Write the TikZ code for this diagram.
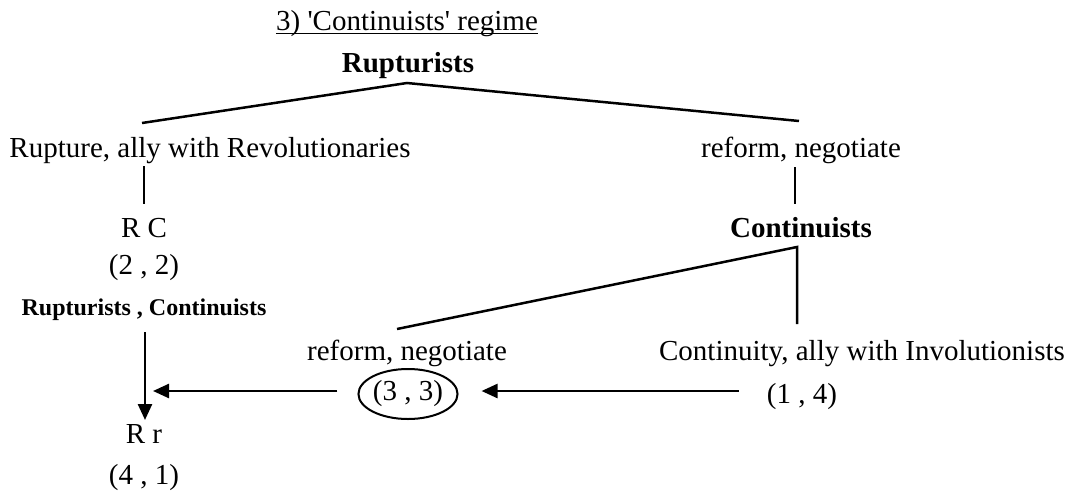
\documentclass[tikz,border=0pt]{standalone}
\usepackage{fontspec}
\setmainfont{Liberation Serif}[Ligatures=TeXOff]
\usetikzlibrary{arrows.meta,shapes.geometric,calc}
\begin{document}
\begin{tikzpicture}[x=1pt,y=-1pt,
  txt/.style={font=\fontsize{29}{34}\selectfont, inner sep=0pt, anchor=base},
  btxt/.style={txt, font=\fontsize{29}{34}\selectfont\bfseries},
  sbtxt/.style={txt, font=\fontsize{24}{28}\selectfont\bfseries},
  edge/.style={line width=2.5pt},
  arr/.style={line width=2.5pt, -{Triangle[length=16pt,width=14pt]}}]
\useasboundingbox (0,0) rectangle (1071,493);
% texts
\node[txt] (title) at (407,30) {3) 'Continuists' regime};
\node[btxt] (rup) at (408,72) {Rupturists};
\node[txt] (rupt) at (210,157) {Rupture, ally with Revolutionaries};
\node[txt] (refA) at (801,157) {reform, negotiate};
\node[txt] (rc) at (144,237) {R C};
\node[btxt] (cont) at (801,237) {Continuists};
\node[txt] (p22) at (144,274) {(2 , 2)};
\node[sbtxt] (lab) at (144,315) {Rupturists , Continuists};
\node[txt] (refB) at (407,360) {reform, negotiate};
\node[txt] (cty) at (862,360) {Continuity, ally with Involutionists};
\node[txt, anchor=center, ellipse, draw, line width=2pt, minimum width=97pt, minimum height=50pt] (p33) at (408,394) {(3 , 3)};
\node[txt] (p14) at (802,403) {(1 , 4)};
\node[txt] (rr) at (144,443) {R r};
\node[txt] (p41) at (144,484) {(4 , 1)};
% underline of title
\draw[line width=1.3pt] ($(title.base west)+(0,3.5)$) -- ($(title.base east)+(0,3.5)$);
% connector end points
\coordinate (rupA) at ($(rup.base)+(-1,11)$);
\coordinate (ruptA) at ($(rupt.base)+(-68,-34)$);
\coordinate (refAtop) at ($(refA.base)+(-2,-36)$);
\coordinate (ruptB) at ($(rupt.base)+(-66,9)$);
\coordinate (rcA) at ($(rc.base)+(0,-33)$);
\coordinate (refAbot) at ($(refA.base)+(-6,10)$);
\coordinate (contT) at ($(cont.base)+(-6,-33)$);
\coordinate (contA) at ($(cont.base)+(-4,10)$);
\coordinate (refBtop) at ($(refB.base)+(-10,-31)$);
\coordinate (ctytop) at ($(cty.base)+(-65,-36)$);
\coordinate (labB) at ($(lab.base)+(1,17)$);
\coordinate (rrT) at ($(rr.base)+(1,-23)$);
\coordinate (p14W) at ($(p14.base west)+(-28,-12)$);
\coordinate (p33E) at ($(p33.east)+(23,-3)$);
\coordinate (p33W) at ($(p33.west)+(-20,-3)$);
\coordinate (rrE) at ($(rr.base)+(9,-52)$);
% tree edges
\draw[edge] (ruptA) -- (rupA) -- (refAtop);
\draw[edge] (ruptB) -- (rcA);
\draw[edge] (refAbot) -- (contT);
\draw[edge] (refBtop) -- (contA) -- (ctytop);
% arrows
\draw[arr] (labB) -- (rrT);
\draw[arr] (p14W) -- (p33E);
\draw[arr] (p33W) -- (rrE);
\end{tikzpicture}
\end{document}
